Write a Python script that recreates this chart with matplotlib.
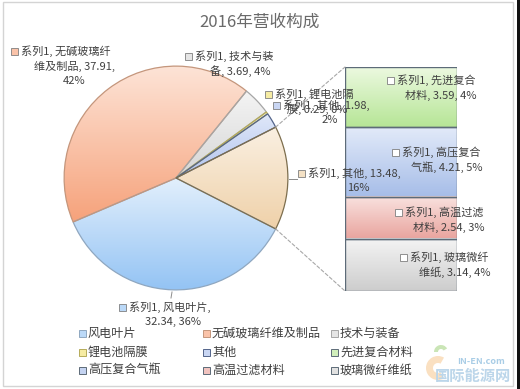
import numpy as np
import matplotlib
matplotlib.use("Agg")
import matplotlib.pyplot as plt
from matplotlib.colors import to_rgb
from matplotlib.patches import Rectangle, ConnectionPatch, Wedge

plt.rcParams['font.family'] = ['Noto Sans CJK SC', 'DejaVu Sans']

W, H = 520, 389

# ---- data ----
title = "2016年营收构成"
pie_names = ["风电叶片", "无碱玻璃纤维及制品", "技术与装备", "锂电池隔膜", "其他"]
pie_values = [32.34, 37.91, 3.69, 0.29, 1.98]
pie_pct = ["36%", "42%", "4%", "0%", "2%"]
agg_name = "其他"
agg_value = 13.48
agg_pct = "16%"
bar_names = ["先进复合材料", "高压复合气瓶", "高温过滤材料", "玻璃微纤维纸"]
bar_values = [3.59, 4.21, 2.54, 3.14]
bar_pct = ["4%", "5%", "3%", "4%"]

# ---- styles: (top colour, bottom colour, edge) ----
pie_style = [("#e2effc", "#93c3f4", "#8fa7c0"),
             ("#fde4d7", "#f6a27b", "#c4967c"),
             ("#f4f4f4", "#d6d6d6", "#a6a6a6"),
             ("#fcf8cc", "#efe07a", "#b5ab5a"),
             ("#e0e8f9", "#b2c4ee", "#53648a")]
agg_style = ("#faf0e2", "#efd1a9", "#7d6e4e")
bar_style = [("#ecf9e0", "#b6e596", "#5d6b78"),
             ("#e2eaf9", "#a6bde8", "#5d6b78"),
             ("#f9e2df", "#e9a49e", "#5d6b78"),
             ("#f4f4f4", "#cdcdcd", "#5d6b78")]
label_color = "#404040"


def gradient(ax, top, bottom, extent, clip=None, z=1):
    c1 = np.array(to_rgb(top))
    c2 = np.array(to_rgb(bottom))
    t = np.linspace(0, 1, 128)[:, None]
    img = (c1 * (1 - t) + c2 * t)[:, None, :]
    im = ax.imshow(img, extent=extent, origin="upper", aspect="auto",
                   interpolation="bilinear", zorder=z)
    if clip is not None:
        im.set_clip_path(clip)
    return im


def mid(c1, c2):
    return tuple((np.array(to_rgb(c1)) + np.array(to_rgb(c2))) / 2)


fig = plt.figure(figsize=(W / 100, H / 100), dpi=100)

# overlay axes in pixel coordinates for texts and decorations
base = fig.add_axes([0, 0, 1, 1])
base.set_xlim(0, W)
base.set_ylim(H, 0)
base.axis("off")
base.set_zorder(5)
base.patch.set_alpha(0)

# ---- primary pie ----
pcx, pcy, pr = 176, 178, 113
ax_pie = fig.add_axes([(pcx - pr) / W, (H - pcy - pr) / H, 2 * pr / W, 2 * pr / H])
all_vals = pie_values + [agg_value]
f_agg = agg_value / sum(all_vals)
wedges, _ = ax_pie.pie(all_vals, radius=1, counterclock=False,
                       startangle=360 - 180 * f_agg,
                       wedgeprops=dict(linewidth=0.9))
for w, (top, bot, edge) in zip(wedges, pie_style + [agg_style]):
    w.set_facecolor("none")
    w.set_edgecolor(edge)
    w.set_zorder(3)
    v = w.get_path().vertices
    v = v[np.isfinite(v).all(axis=1)]
    gradient(ax_pie, top, bot,
             [v[:, 0].min(), v[:, 0].max(), v[:, 1].min(), v[:, 1].max()],
             clip=w, z=2)
ax_pie.set_xlim(-1.01, 1.01)
ax_pie.set_ylim(-1.01, 1.01)
ax_pie.axis("off")

# ---- secondary stacked bar ----
bx0, by0, bw, bh = 345, 67, 112, 224
ax_bar = fig.add_axes([bx0 / W, (H - by0 - bh) / H, bw / W, bh / H])
total = sum(bar_values)
bottoms = total - np.cumsum(bar_values)
rects = ax_bar.bar(0, bar_values, width=1, bottom=bottoms,
                   facecolor="none", linewidth=1.0, zorder=3)
for r, (top, bot, edge) in zip(rects, bar_style):
    r.set_edgecolor(edge)
    x, y = r.get_x(), r.get_y()
    gradient(ax_bar, top, bot, [x, x + r.get_width(), y, y + r.get_height()], z=2)
ax_bar.set_xlim(-0.5, 0.5)
ax_bar.set_ylim(0, total)
ax_bar.axis("off")

# dashed connectors from aggregated slice to the bar
aw = wedges[-1]
pts = [(np.cos(np.radians(a)), np.sin(np.radians(a))) for a in (aw.theta1, aw.theta2)]
pts.sort(key=lambda p: p[1])
for (px, py), yb in zip(pts, (0, total)):
    con = ConnectionPatch(xyA=(px, py), coordsA=ax_pie.transData,
                          xyB=(-0.5, yb), coordsB=ax_bar.transData,
                          linestyle=(0, (3, 2)), color="#a8a8a8", linewidth=0.8)
    fig.add_artist(con)

# ---- data labels ----
def label(mx, my, cx, text, color, fs=8):
    base.add_patch(Rectangle((mx - 3.5, my - 3.5), 7, 7, facecolor=color,
                             edgecolor="#7f7f7f", linewidth=0.6))
    lines = text.split("\n")
    base.text(mx + 7, my, lines[0], ha="left", va="center", fontsize=fs,
              color=label_color)
    for i, ln in enumerate(lines[1:], start=1):
        base.text(cx, my + 15 * i, ln, ha="center", va="center", fontsize=fs,
                  color=label_color)


pie_labels = [
    f"系列1, 风电叶片,\n{pie_values[0]:.2f}, {pie_pct[0]}",
    f"系列1, 无碱玻璃纤\n维及制品, {pie_values[1]:.2f},\n{pie_pct[1]}",
    f"系列1, 技术与装\n备, {pie_values[2]:.2f}, {pie_pct[2]}",
    f"系列1, 锂电池隔\n膜, {pie_values[3]:.2f}, {pie_pct[3]}",
    f"系列1, 其他, {pie_values[4]:.2f},\n{pie_pct[4]}",
]
pie_label_pos = [(122, 307, 173), (14, 51, 74), (188, 56, 240),
                 (268, 94, 317), (276, 105, 330)]
for txt, (mx, my, cx), st in zip(pie_labels, pie_label_pos, pie_style):
    label(mx, my, cx, txt, mid(st[0], st[1]))

label(301, 173, 358, f"系列1, {agg_name}, {agg_value:.2f},\n{agg_pct}",
      mid(agg_style[0], agg_style[1]))

bar_labels = [
    f"系列1, 先进复合\n材料, {bar_values[0]:.2f}, {bar_pct[0]}",
    f"系列1, 高压复合\n气瓶, {bar_values[1]:.2f}, {bar_pct[1]}",
    f"系列1, 高温过滤\n材料, {bar_values[2]:.2f}, {bar_pct[2]}",
    f"系列1, 玻璃微纤\n维纸, {bar_values[3]:.2f}, {bar_pct[3]}",
]
bar_label_pos = [(390, 80, 441), (395, 152, 447), (398, 212, 449), (403, 257, 455)]
for txt, (mx, my, cx) in zip(bar_labels, bar_label_pos):
    label(mx, my, cx, txt, "white")

# short leader lines
base.plot([289, 297], [179, 179], color="#8c8c8c", lw=0.7)
base.plot([172, 171], [292, 298], color="#8c8c8c", lw=0.7)

# ---- title ----
base.text(260, 22, title, ha="center", va="center", fontsize=12, color="#6a6a6a")

# ---- legend (row-major, 3 columns) ----
legend_names = pie_names + bar_names
legend_cols = pie_style + bar_style
legend_x = [82, 206, 334]
legend_y = [333, 352, 370]
for i, (name, st) in enumerate(zip(legend_names, legend_cols)):
    lx = legend_x[i % 3]
    ly = legend_y[i // 3]
    base.add_patch(Rectangle((lx - 3.5, ly - 3.5), 7, 7, facecolor=mid(st[0], st[1]),
                             edgecolor=st[2], linewidth=0.7))
    base.text(lx + 6, ly, name, ha="left", va="center", fontsize=8.7,
              color=label_color)

# ---- frame and watermark ----
base.add_patch(Rectangle((3, 1.5), 510, 384.5, facecolor="none",
                         edgecolor="#d4d4d4", linewidth=1))
base.add_patch(Rectangle((517, 0), 3, H, facecolor="#111111", edgecolor="none"))
base.add_patch(Wedge((438, 368), 12, 60, 300, width=7, facecolor="#f6c78f",
                     edgecolor="none", alpha=0.55))
base.add_patch(Wedge((441, 352), 7, 180, 330, width=4, facecolor="#9fd07a",
                     edgecolor="none", alpha=0.55))
base.text(481, 361, "IN-EN.com", ha="center", va="center", fontsize=6.5,
          fontstyle="italic", fontweight="bold", color="#a9cde6")
base.text(473, 376, "国际能源网", ha="center", va="center", fontsize=11,
          fontweight="bold", color="#bcd6ea")

fig.savefig("out.png", dpi=100)
